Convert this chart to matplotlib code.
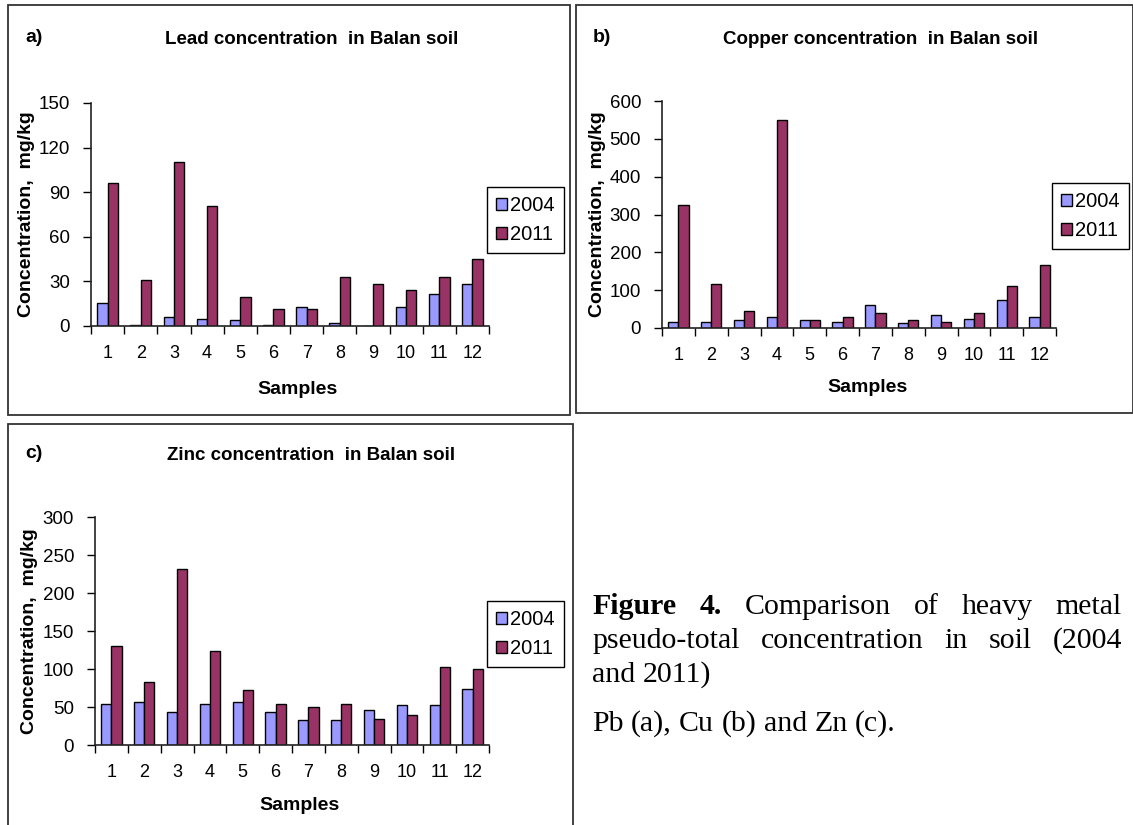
import numpy as np
import matplotlib.pyplot as plt
from matplotlib.patches import Rectangle

plt.rcParams['font.family'] = ['Liberation Sans', 'DejaVu Sans']

# Sample numbers and concentrations (mg/kg)
samples = list(range(1, 13))
pb_2004 = [15.3, 0.7, 6, 5, 4, 0.7, 13, 1.8, 0, 12.8, 21.8, 28.5]
pb_2011 = [96.5, 30.8, 110, 81, 19.5, 11.7, 11.7, 32.8, 28.5, 24.2, 33, 45]
cu_2004 = [17, 16, 20, 29, 21, 17, 60, 12, 33.5, 25, 74, 30]
cu_2011 = [324, 117, 44, 551, 21, 29, 40, 21, 17, 39, 110, 166]
zn_2004 = [54.4, 56.6, 43.4, 54.4, 56.6, 43.4, 32.5, 32.5, 45.6, 52.2, 52.2, 74]
zn_2011 = [130.7, 82.9, 231, 124, 72, 54.4, 50, 54.4, 34.6, 39, 102.6, 100]
years = ['2004', '2011']

W, H = 1133, 825
fig = plt.figure(figsize=(W / 100, H / 100), dpi=100)


def fx(px):
    return px / W


def fy(py):
    return 1 - py / H


def panel(box, axrect, tag, title, title_x, title_y, v04, v11, ymax, step, leg_xy, samples_y):
    # outer frame of the panel
    x0, yt, x1, yb = box
    fig.add_artist(Rectangle((fx(x0), fy(yb)), fx(x1 - x0), (yb - yt) / H,
                             fill=False, ec='#333333', lw=1.3, transform=fig.transFigure))
    fig.text(fx(x0 + 17), fy(title_y - 2), tag, fontsize=14, fontweight='bold', va='center')
    fig.text(fx(title_x), fy(title_y), title, fontsize=13.5, fontweight='bold',
             ha='center', va='center')

    l, t, r, b = axrect
    ax = fig.add_axes([fx(l), fy(b), fx(r - l), (b - t) / H])
    x = np.array(samples)
    w = 0.31
    ax.bar(x - w / 2, v04, w, color='#9999FF', ec='black', lw=1.0, label=years[0])
    ax.bar(x + w / 2, v11, w, color='#993366', ec='black', lw=1.0, label=years[1])
    ax.set_xlim(0.5, 12.5)
    ax.set_ylim(0, ymax)
    ax.set_yticks(np.arange(0, ymax + 1, step))
    ax.set_xticks(x)
    ax.set_xticklabels([str(s) for s in samples])
    ax.set_xticks(np.arange(0.5, 13, 1), minor=True)
    ax.tick_params(axis='x', which='major', length=0, pad=14, labelsize=13)
    ax.tick_params(axis='x', which='minor', length=6, width=1, direction='out')
    ax.tick_params(axis='y', length=6, width=1, pad=9, labelsize=13.5)
    for s in ['top', 'right']:
        ax.spines[s].set_visible(False)
    for s in ['left', 'bottom']:
        ax.spines[s].set_linewidth(1.2)
        ax.spines[s].set_color('#222222')
    ax.set_ylabel('Concentration,  mg/kg', fontsize=14, fontweight='bold', labelpad=3)
    fig.text(fx((l + r) / 2 + 8), fy(samples_y), 'Samples', fontsize=14, fontweight='bold',
             ha='center', va='center')
    leg = ax.legend(loc='upper left', bbox_to_anchor=(fx(leg_xy[0]), fy(leg_xy[1])),
                    bbox_transform=fig.transFigure, borderaxespad=0, fancybox=False,
                    edgecolor='black', framealpha=1, fontsize=14.5, handlelength=0.55,
                    handleheight=0.55, handletextpad=0.15, labelspacing=0.5,
                    borderpad=0.45)
    leg.get_frame().set_linewidth(1.0)
    return ax


panel((8, 5, 570, 415), (91, 103, 489, 326), 'a)', 'Lead concentration  in Balan soil', 312, 40,
      pb_2004, pb_2011, 150, 30, (487, 187), 390)
panel((576, 5, 1133, 413), (662, 101, 1056, 328), 'b)', 'Copper concentration  in Balan soil', 881, 40,
      cu_2004, cu_2011, 600, 100, (1052, 183), 388)
panel((8, 424, 573, 830), (95, 517, 489, 745), 'c)', 'Zinc concentration  in Balan soil', 311, 456,
      zn_2004, zn_2011, 300, 50, (487, 601), 805)

# caption, justified like the source text
serif = ['Liberation Serif', 'DejaVu Serif']
cap_fs = 21.5
renderer = fig.canvas.get_renderer()
cx0, cx1 = 592, 1122


def put_line(parts, base_y, justify):
    texts = [fig.text(0, fy(base_y), wd, fontsize=cap_fs, fontweight=wt, family=serif,
                      va='baseline') for wd, wt in parts]
    widths = [tx.get_window_extent(renderer).width for tx in texts]
    if justify and len(texts) > 1:
        gap = (cx1 - cx0 - sum(widths)) / (len(texts) - 1)
    else:
        gap = 0.25 * cap_fs * 100 / 72
    xpos = cx0
    for tx, wd in zip(texts, widths):
        tx.set_x(fx(xpos))
        xpos += wd + gap


put_line([('Figure', 'bold'), ('4.', 'bold'), ('Comparison', 'normal'), ('of', 'normal'),
          ('heavy', 'normal'), ('metal', 'normal')], 614, True)
put_line([('pseudo-total', 'normal'), ('concentration', 'normal'), ('in', 'normal'),
          ('soil', 'normal'), ('(2004', 'normal')], 648, True)
put_line([('and', 'normal'), ('2011)', 'normal')], 682, False)
put_line([('Pb', 'normal'), ('(a),', 'normal'), ('Cu', 'normal'), ('(b)', 'normal'),
          ('and', 'normal'), ('Zn', 'normal'), ('(c).', 'normal')], 731, False)

fig.savefig('out.png', dpi=100)
